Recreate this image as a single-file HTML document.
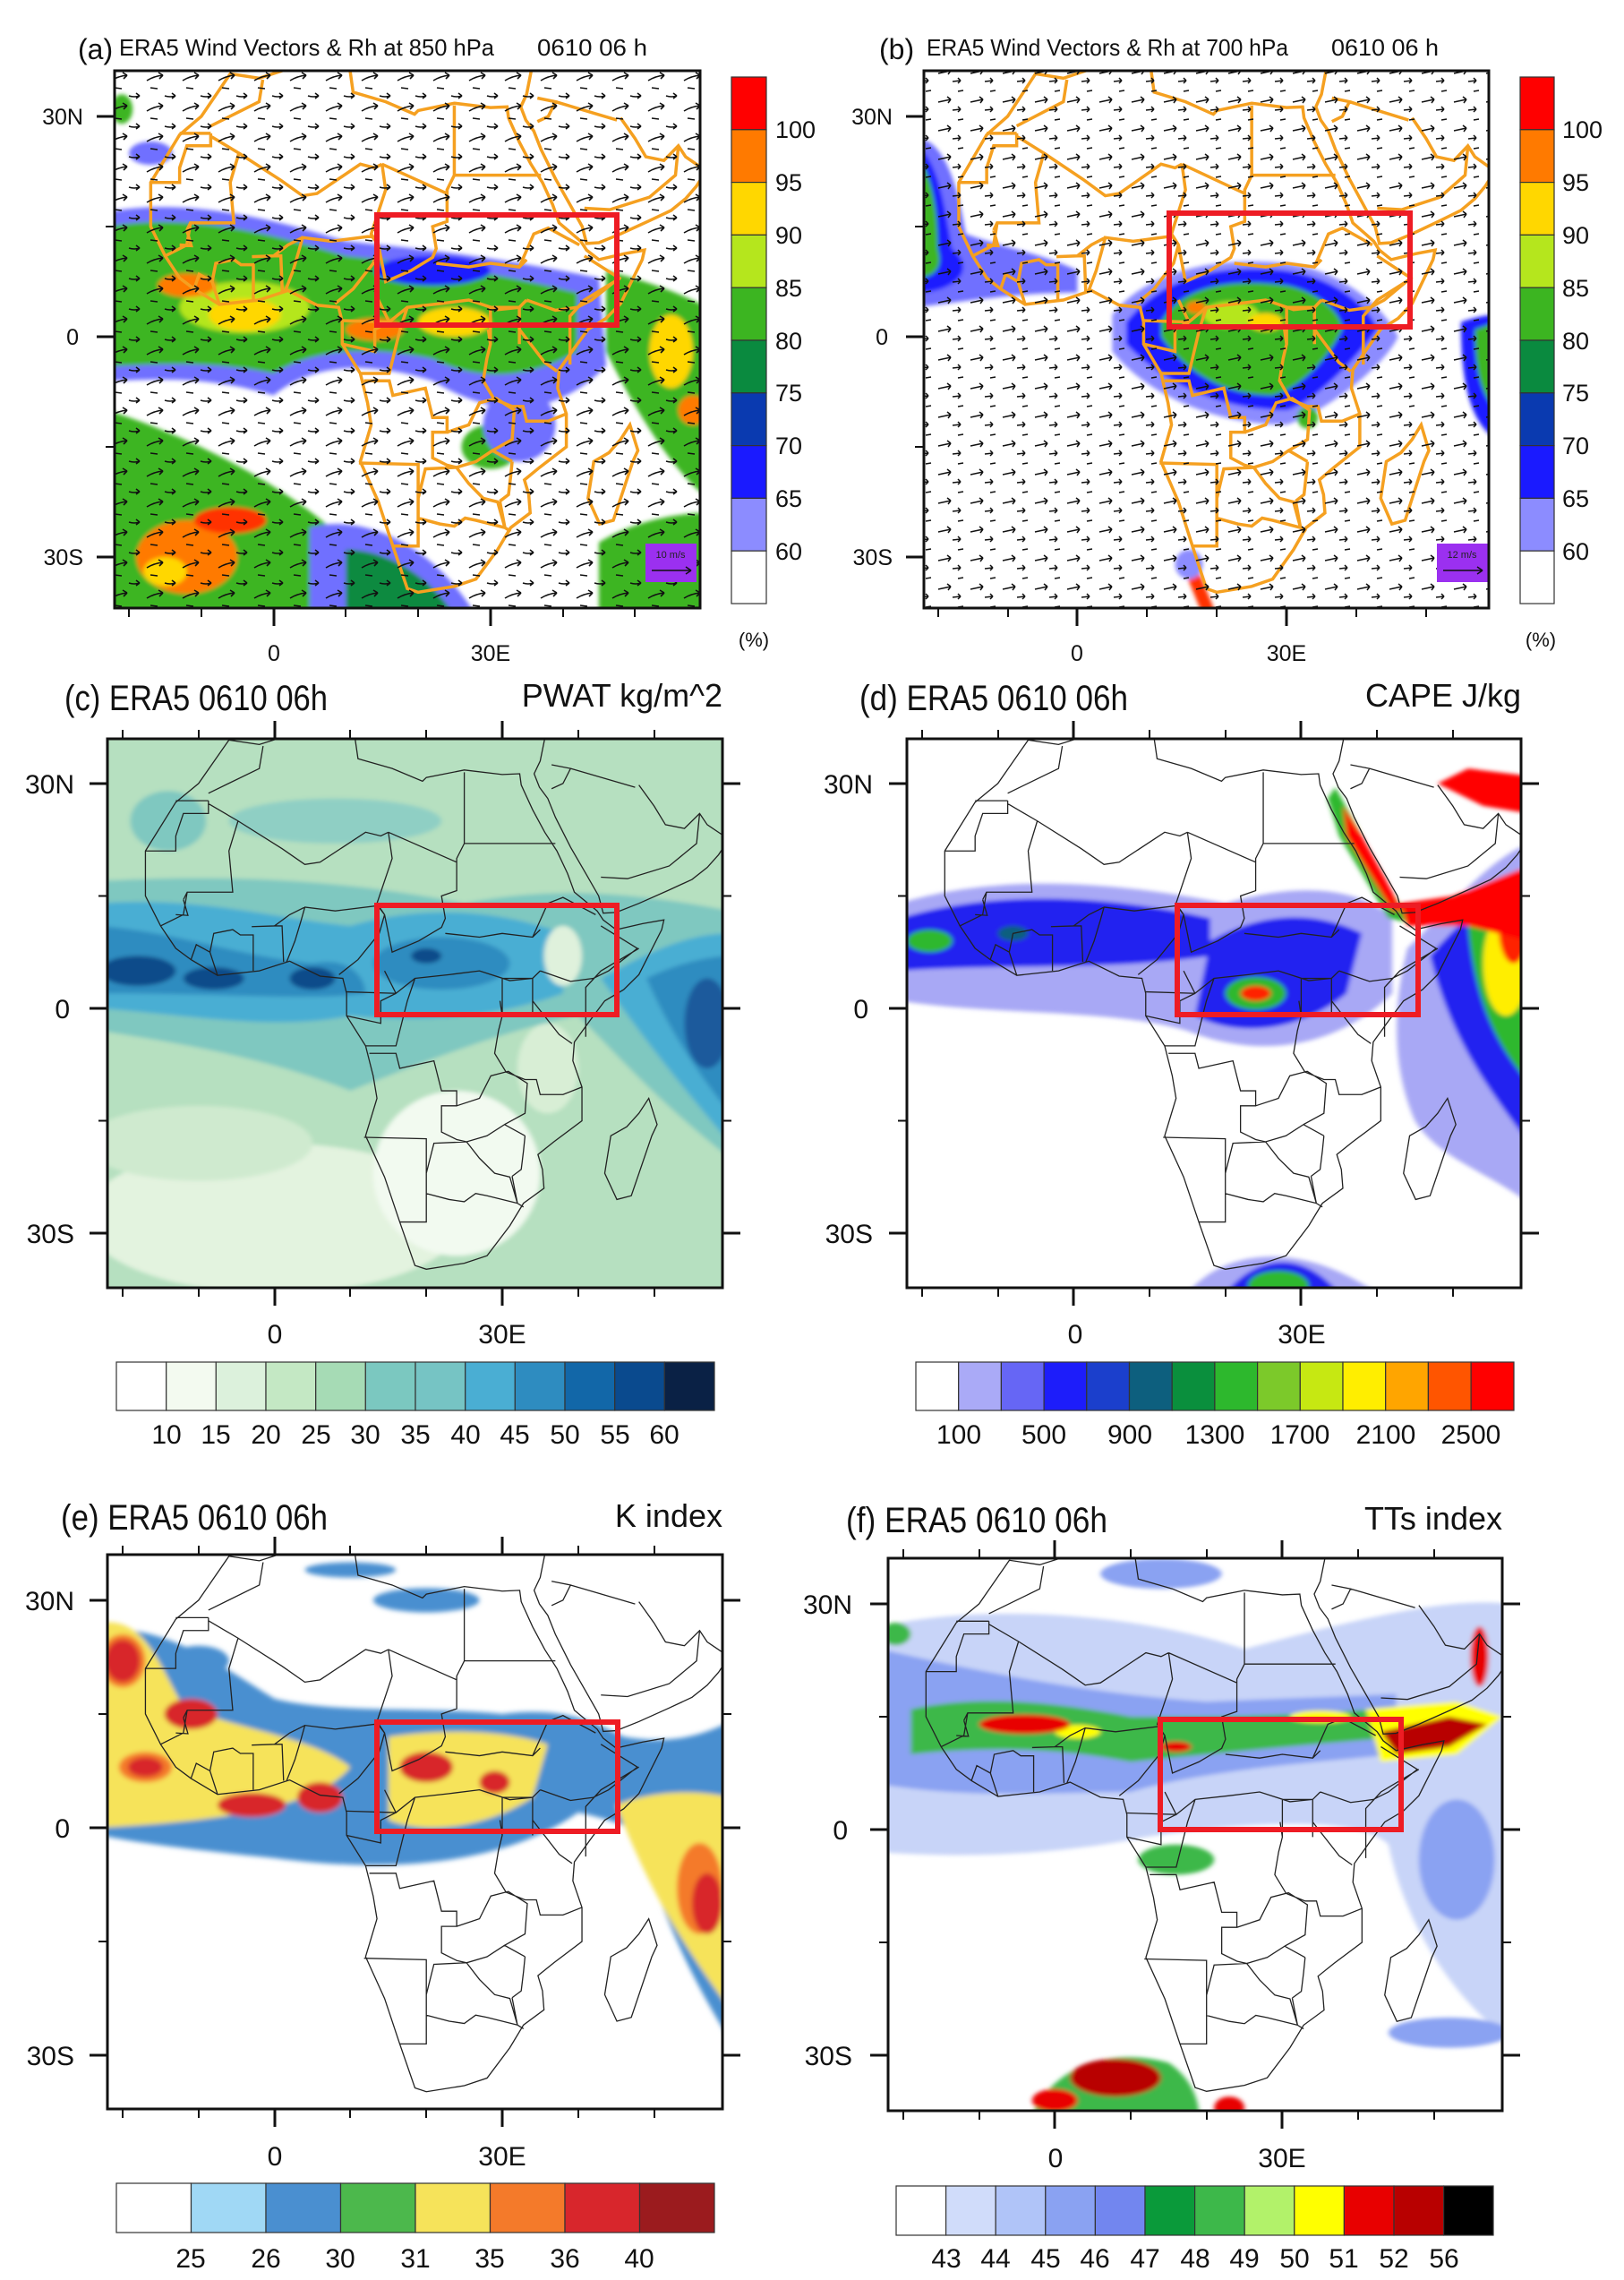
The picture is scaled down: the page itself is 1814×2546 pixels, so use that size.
<!DOCTYPE html>
<html><head><meta charset="utf-8"><style>html,body{margin:0;padding:0;background:#fff}svg{display:block}text{font-family:"Liberation Sans",sans-serif;fill:#111}</style></head><body>
<svg width="1814" height="2546" viewBox="0 0 1814 2546" xmlns="http://www.w3.org/2000/svg">
<defs>
<filter id="bl" x="-0.1" y="-0.1" width="1.2" height="1.2"><feGaussianBlur stdDeviation="0.3"/></filter>
<g id="coast" fill="none">
<path vector-effect="non-scaling-stroke" d="M-6,-35.8 L-10,-30 L-13,-27.5 L-17,-21 L-17,-15 L-15,-11 L-13,-8 L-11,-6.5 L-7.5,-4.4 L-2,-5 L2,-6.3 L6,-4.3 L9,-4 L9.5,-2 L9.5,1 L12,5 L13,9 L13.5,12 L12,17 L14.5,22.5 L16.5,28.5 L18.5,34.3 L20,34.8 L25,34 L28,33 L31,29 L32.8,26 L35.5,24 L35.3,21.5 L34.7,19.5 L36.8,17.8 L40.5,15 L40.5,10.5 L39.3,7 L39.5,4.5 L41.5,1.7 L43.5,-1 L46,-2.5 L48,-4.5 L51,-10.5 L51.3,-11.8 L48.5,-11.3 L45,-10.5 L43.3,-11.8 L42.5,-13 L39.5,-15.5 L38.6,-18 L37.2,-21 L35.6,-23.5 L34,-26.5 L32.5,-29.8 L32.3,-31.3 L30,-31.2 L25,-31.8 L20,-30.8 L19.5,-30.3 L15.5,-32 L11,-33.3 L10.5,-36.8 L9.5,-37.2 L3,-36.8 L-2,-35.2 Z"/>
<path vector-effect="non-scaling-stroke" d="M36,-38 L35,-33 L34.2,-31.3 L34.9,-29.5 L36,-28 L37,-25.5 L39,-21.5 L41,-18 L42.7,-15 L43.3,-12.7 L45,-12.8 L48,-14 L52,-15.8 L55,-17.2 L57,-18.8 L58.5,-20.5 L59.8,-22.5 M48,-29.8 L50,-27 L51.5,-24.5 L54,-24 L56,-26 L57,-24.5 L59.5,-22.8"/>
<path vector-effect="non-scaling-stroke" d="M49.3,12 L50.4,15.5 L49.7,17 L47,25 L45.1,25.5 L43.5,22 L44.3,17 L46.4,15.8 L48,14 Z M-10,-38 L-9,-37 L-6,-36.5 L-2,-36.7 L0,-38.5"/>
<path vector-effect="non-scaling-stroke" d="M-1.5,-35 L-2,-32 L-8.7,-28.7 M-8.7,-27.7 L-13,-27.7 M-17,-21 L-13,-21 L-13,-23 L-12,-26 L-8.7,-26 L-8.7,-27.7 M-12,-14.5 L-11.5,-15.5 L-5.5,-15.5 L-6,-21 L-4.8,-25 L-8.7,-27.3 M-4.8,-25 L1,-21.3 L4,-19.2 L6,-19.5 L12,-23.5 L14,-23 L15,-23.5 M25,-31.5 L25,-22 L24,-20 L24,-19.5 M25,-22 L37,-22 M15,-23.5 L24,-19.5 L24,-15.7 L22,-15 L22.5,-12 L22,-10.8 L19,-9 L15.5,-7.5 L14.5,-12.5 L13.5,-14 L15.5,-20 L15,-23.5 M3.5,-11.7 L4,-13.5 L8,-13 L13.6,-13.7 L14.5,-12.5 M22.5,-10 L27,-9.5 L30,-10 L34,-9.5 L35,-10.5 M14.5,-5 L16,-2 L18.5,-4 L23,-4.5 L27,-5 L31,-3.7 L34,-4 M34,-9.5 L36,-14 L38,-14.8 L42.3,-12.5 M35,-5 L39,-3.6 L42,-4 L44,-5 L47.8,-8 L43,-11 M34,-1 L37.5,3.5 L39.2,4.7 M40.5,10.5 L38,11.5 L35,11.5 L34.5,9.5 L33,9.5 L30.5,8.5 L29,6 L29.5,3 L30,1 L29.7,-1 M12.5,6 L16,6 L16.5,8 L21,7 L22,11 L24,11 L24,13 L22,13 L22,16.5 L24,17.5 L25.3,17.8 L28,17 L30.3,15.5 L33,17 M11.8,17.2 L20,17.4 L20,22 L20,24.7 L20,28.5 L16.5,28.5 M20,22 L21,18 L25.3,17.8 L27,20 L29,22 L31,22.5 L32,26 L28,25 L26.5,24.7 L25,25.8 L23,25.5 L20,24.7 M31.3,22.4 L32,26 L32.8,26.5 M24,13 L27,12 L28.5,9 L30.8,8.4 L33.3,10 L33,14 L30.3,15.5 M33,17 L32.8,19 L32.5,21.5 L31.3,22.4 M-15,-11 L-12,-12.5 L-11.5,-15.5 M-8.5,-7.5 L-8,-10 L-5.5,-10.5 L-4.5,-9.8 L-2.8,-9.8 L-2.8,-5 M-0.1,-11 L1,-11 L1.2,-6.2 M1.6,-6.2 L2.7,-9 L3.5,-11.7 M-3,-10.9 L0,-11 L2,-12.5 L4,-13.5 M-8.5,-7.5 L-7.5,-4.4 M-11,-6.5 L-10.3,-8.5 L-8.5,-7.5 M-13,-12.5 L-11.4,-12.4 L-12,-14.5 M8.5,-4.5 L11,-6.5 L13.8,-10 L14.5,-12.5 M9.5,-2.2 L16,-2 M9.5,1 L14,2 L14,-1 L16,-2 M12,5 L16,5 L17.5,-1 L18.5,-4 M30,1 L30,-4 L34,-4 L35,-5 M34,-4 L34,1 M41,3.8 L41,-2.8 L43,-5 L48,-8 M36.5,-29.3 L38,-30 L39,-32 L36.5,-32.5 M43,-17.5 L46.5,-17.3 L52,-19 L55.6,-22 L56,-26 M39,-32 L47.5,-29.5"/>
</g>
<pattern id="arr" width="40" height="34" patternUnits="userSpaceOnUse">
<path d="M4,22 Q12,17 22,16 M22,16 l-5,-3 M22,16 l-4,4 M24,5 Q30,7 36,5 M36,5 l-4,-3 M36,5 l-4,3 M8,30 l8,1" stroke="#111" stroke-width="1.6" fill="none"/>
</pattern>
<pattern id="arr2" width="36" height="32" patternUnits="userSpaceOnUse">
<path d="M4,18 L18,15 M18,15 l-4,-3 M18,15 l-3,4 M20,27 L29,26 M29,26 l-3,-3 M29,26 l-3,3 M26,6 l6,-1" stroke="#111" stroke-width="1.5" fill="none"/>
</pattern>
<clipPath id="cA"><rect x="128" y="79" width="654" height="600"/></clipPath>
<clipPath id="cB"><rect x="1032" y="79" width="631" height="600"/></clipPath>
<clipPath id="cC"><rect x="120" y="825" width="687" height="613"/></clipPath>
<clipPath id="cD"><rect x="1013" y="825" width="686" height="613"/></clipPath>
<clipPath id="cE"><rect x="120" y="1736" width="687" height="619"/></clipPath>
<clipPath id="cF"><rect x="992" y="1740" width="686" height="617"/></clipPath>
</defs>
<rect width="1814" height="2546" fill="#fff"/>

<!-- ============ (a) ============ -->
<g clip-path="url(#cA)">
<rect x="128" y="79" width="654" height="600" fill="#fff"/>
<g transform="translate(305.6,376) scale(8.074,8.2)">
<g filter="url(#bl)">
<path fill="#7070ff" d="M-23,-17 C-12,-19 0,-16 10,-13 C20,-12 30,-11 45,-8 L46,4 C40,10 32,12 22,6 C12,3 5,4 0,8 C-10,5 -18,6 -23,6 Z"/>
<path fill="#3cb521" d="M-23,-15 C-12,-17 0,-14 10,-11 C20,-10 30,-9 42,-6 L42,2 C35,6 28,6 22,3 C12,1 5,2 0,5 C-10,3 -18,4 -23,4 Z"/>
<ellipse cx="-4" cy="-4" rx="9" ry="3.5" fill="#b5e61d"/>
<ellipse cx="-4" cy="-3" rx="5" ry="2.2" fill="#ffd700"/>
<ellipse cx="-12" cy="-7" rx="4" ry="1.6" fill="#ff7a00"/>
<ellipse cx="14" cy="-1" rx="4" ry="1.5" fill="#ff7a00"/>
<ellipse cx="25" cy="-2" rx="5" ry="2" fill="#ffd700"/>
<ellipse cx="22" cy="-9" rx="8" ry="2" fill="#1a1aff"/>
<ellipse cx="30" cy="-6" rx="4" ry="2" fill="#3cb521"/>
<path fill="#3cb521" d="M-23,10 C-10,14 5,22 12,30 L14,38 L-23,38 Z"/>
<path fill="#7070ff" d="M5,26 C12,24 22,28 28,38 L5,38 Z"/>
<path fill="#0a8a3f" d="M10,29 C16,29 22,33 25,38 L10,38 Z"/>
<ellipse cx="-12" cy="30" rx="7" ry="5" fill="#ff7a00"/>
<ellipse cx="-6" cy="25" rx="5" ry="1.8" fill="#ff3000"/>
<ellipse cx="-15" cy="32" rx="3" ry="2" fill="#ffd700"/>
<path fill="#3cb521" d="M46,-9 C54,-7 58,-5 60,-4 L60,22 C55,18 50,10 46,2 Z"/>
<ellipse cx="55" cy="2" rx="3" ry="5" fill="#ffd700"/>
<ellipse cx="58" cy="10" rx="2" ry="2" fill="#ff7a00"/>
<path fill="#3cb521" d="M45,28 C50,25 56,24 60,24 L60,38 L45,38 Z"/>
<ellipse cx="30" cy="15" rx="4" ry="3" fill="#3cb521"/>
<ellipse cx="34" cy="12" rx="5" ry="5" fill="#7070ff"/>
<ellipse cx="-17" cy="-25" rx="3" ry="1.6" fill="#7070ff"/>
<ellipse cx="-21" cy="-31" rx="1.5" ry="2" fill="#3cb521"/>
</g>
<use href="#coast" stroke="#f5a020" stroke-width="3.5"/>
</g>
<rect x="128" y="79" width="654" height="600" fill="url(#arr)"/>
<rect x="721" y="607" width="57" height="43" fill="#9b30f0"/>
<text x="749" y="623" font-size="11" text-anchor="middle" style="fill:#222">10 m/s</text>
<path d="M728,637 H772 M772,637 l-6,-4 M772,637 l-6,4" stroke="#111" stroke-width="1.5" fill="none"/>
</g>
<rect x="128" y="79" width="654" height="600" fill="none" stroke="#111" stroke-width="3"/>
<path d="M128,130h-20M128,376h-20M128,622h-20M306,679v20M548,679v20" stroke="#111" stroke-width="3"/>
<path d="M128,253h-10M128,499h-10M144,679v10M225,679v10M386,679v10M467,679v10M629,679v10M709,679v10" stroke="#111" stroke-width="2"/>
<text x="87" y="66" font-size="32">(a)</text>
<text x="133" y="62" font-size="26" textLength="419" lengthAdjust="spacingAndGlyphs">ERA5  Wind Vectors &amp;  Rh at 850 hPa</text>
<text x="600" y="62" font-size="26" textLength="123" lengthAdjust="spacingAndGlyphs">0610   06 h</text>
<g font-size="25" text-anchor="end"><text x="93" y="139">30N</text><text x="88" y="385">0</text><text x="93" y="631">30S</text></g>
<g font-size="25" text-anchor="middle"><text x="306" y="738">0</text><text x="548" y="738">30E</text></g>
<g stroke="#333" stroke-width="1.2">
<rect x="817" y="86" width="39" height="58.8" fill="#ff0000"/><rect x="817" y="144.8" width="39" height="58.8" fill="#ff7a00"/><rect x="817" y="203.6" width="39" height="58.8" fill="#ffd700"/><rect x="817" y="262.4" width="39" height="58.8" fill="#b5e61d"/><rect x="817" y="321.2" width="39" height="58.8" fill="#3cb521"/><rect x="817" y="380" width="39" height="58.8" fill="#0a8a3f"/><rect x="817" y="438.8" width="39" height="58.8" fill="#0a3ab0"/><rect x="817" y="497.6" width="39" height="58.8" fill="#1a1aff"/><rect x="817" y="556.4" width="39" height="58.8" fill="#8c8cff"/><rect x="817" y="615.2" width="39" height="58.8" fill="#fff"/></g>
<g font-size="27"><text x="866" y="154">100</text><text x="866" y="213">95</text><text x="866" y="272">90</text><text x="866" y="331">85</text><text x="866" y="390">80</text><text x="866" y="448">75</text><text x="866" y="507">70</text><text x="866" y="566">65</text><text x="866" y="625">60</text></g>
<text x="842" y="722" font-size="22" text-anchor="middle">(%)</text>
<rect x="421" y="240" width="268" height="123" fill="none" stroke="#ee1c24" stroke-width="6"/>

<!-- ============ (b) ============ -->
<g clip-path="url(#cB)">
<rect x="1032" y="79" width="631" height="600" fill="#fff"/>
<g transform="translate(1203.4,376) scale(7.79,8.2)">
<g filter="url(#bl)">
<path fill="#7070ff" d="M-23,-27 C-19,-27 -17,-20 -16,-14 C-10,-12 -4,-11 0,-9 L0,-6 C-8,-6 -15,-5 -23,-4 Z"/>
<path fill="#1a1aff" d="M-23,-26 C-20,-24 -19,-18 -18,-12 C-14,-9 -18,-6 -23,-6 Z"/>
<path fill="#3cb521" d="M-23,-25 C-21,-22 -20,-18 -20,-12 C-19,-9 -21,-8 -23,-8 Z"/>
<path fill="#8c8cff" d="M5,-3 C10,-9 20,-11 30,-10 C38,-9 44,-4 46,0 C44,4 36,10 30,12 C20,12 10,8 5,2 Z"/>
<path fill="#1a1aff" d="M7,-2 C12,-8 20,-10 30,-9 C37,-8 42,-4 43,-1 C40,3 34,9 30,10 C20,10 12,6 7,1 Z"/>
<path fill="#3cb521" d="M12,-2 C15,-7 22,-8 30,-7 C35,-6 38,-3 38,-1 C36,3 32,7 28,8 C20,8 15,4 12,0 Z"/>
<ellipse cx="22" cy="-3" rx="4" ry="1.8" fill="#b5e61d"/>
<ellipse cx="27" cy="-2" rx="2.5" ry="1.2" fill="#ffd700"/>
<ellipse cx="17" cy="-4" rx="1.4" ry="0.8" fill="#ff7a00"/>
<path fill="#1a1aff" d="M55,-2 C58,-3 60,-3 60,-3 L60,14 C57,12 55,8 55,-2 Z"/>
<path fill="#3cb521" d="M57,-1 L60,-2 L60,10 C58,8 57,5 57,-1 Z"/>
<path fill="#ff3000" d="M15,31 L17,31 L20,38 L18,38 Z"/>
<ellipse cx="16" cy="31" rx="2" ry="2" fill="#8c8cff"/>
<ellipse cx="33" cy="11" rx="1.5" ry="1.5" fill="#3cb521"/>
</g>
<use href="#coast" stroke="#f5a020" stroke-width="3.5"/>
</g>
<rect x="1032" y="79" width="631" height="600" fill="url(#arr2)"/>
<rect x="1605" y="607" width="57" height="43" fill="#9b30f0"/>
<text x="1633" y="623" font-size="11" text-anchor="middle" style="fill:#222">12 m/s</text>
<path d="M1612,637 H1656 M1656,637 l-6,-4 M1656,637 l-6,4" stroke="#111" stroke-width="1.5" fill="none"/>
</g>
<rect x="1032" y="79" width="631" height="600" fill="none" stroke="#111" stroke-width="3"/>
<path d="M1032,130h-20M1032,376h-20M1032,622h-20M1203,679v20M1437,679v20" stroke="#111" stroke-width="3"/>
<path d="M1032,253h-10M1032,499h-10M1048,679v10M1126,679v10M1281,679v10M1359,679v10M1515,679v10M1593,679v10" stroke="#111" stroke-width="2"/>
<text x="982" y="66" font-size="32">(b)</text>
<text x="1035" y="62" font-size="26" textLength="404" lengthAdjust="spacingAndGlyphs">ERA5  Wind Vectors &amp;  Rh at 700 hPa</text>
<text x="1487" y="62" font-size="26" textLength="120" lengthAdjust="spacingAndGlyphs">0610   06 h</text>
<g font-size="25" text-anchor="end"><text x="997" y="139">30N</text><text x="992" y="385">0</text><text x="997" y="631">30S</text></g>
<g font-size="25" text-anchor="middle"><text x="1203" y="738">0</text><text x="1437" y="738">30E</text></g>
<g stroke="#333" stroke-width="1.2">
<rect x="1698" y="86" width="38" height="58.8" fill="#ff0000"/><rect x="1698" y="144.8" width="38" height="58.8" fill="#ff7a00"/><rect x="1698" y="203.6" width="38" height="58.8" fill="#ffd700"/><rect x="1698" y="262.4" width="38" height="58.8" fill="#b5e61d"/><rect x="1698" y="321.2" width="38" height="58.8" fill="#3cb521"/><rect x="1698" y="380" width="38" height="58.8" fill="#0a8a3f"/><rect x="1698" y="438.8" width="38" height="58.8" fill="#0a3ab0"/><rect x="1698" y="497.6" width="38" height="58.8" fill="#1a1aff"/><rect x="1698" y="556.4" width="38" height="58.8" fill="#8c8cff"/><rect x="1698" y="615.2" width="38" height="58.8" fill="#fff"/></g>
<g font-size="27"><text x="1745" y="154">100</text><text x="1745" y="213">95</text><text x="1745" y="272">90</text><text x="1745" y="331">85</text><text x="1745" y="390">80</text><text x="1745" y="448">75</text><text x="1745" y="507">70</text><text x="1745" y="566">65</text><text x="1745" y="625">60</text></g>
<text x="1721" y="722" font-size="22" text-anchor="middle">(%)</text>
<rect x="1306" y="238" width="269" height="127" fill="none" stroke="#ee1c24" stroke-width="6"/>

<!-- ============ (c) PWAT ============ -->
<g clip-path="url(#cC)">
<g transform="translate(306.6,1126) scale(8.48,8.37)">
<g filter="url(#bl)">
<rect x="-23" y="-38" width="84" height="77" fill="#b6e0c0"/>
<ellipse cx="0" cy="28" rx="25" ry="10" fill="#e3f3df"/>
<ellipse cx="-10" cy="18" rx="15" ry="5" fill="#cfeacf"/>
<ellipse cx="8" cy="-25" rx="14" ry="3" fill="#8fcfc4"/>
<ellipse cx="-14" cy="-25" rx="5" ry="4" fill="#7fc8c0"/>
<path fill="#7fc8c0" d="M-23,-17 C-5,-18 10,-17 25,-14 C35,-16 45,-16 60,-13 L60,20 C50,12 45,6 40,1 C30,3 20,7 10,11 C0,7 -10,5 -23,3 Z"/>
<path fill="#4aaed3" d="M-23,-14 C-10,-15 0,-12 10,-11 C20,-14 30,-13 38,-10 L38,-2 C30,1 20,2 10,1 C0,3 -10,1 -23,0 Z"/>
<path fill="#4aaed3" d="M43,-4 C50,-8 55,-10 60,-10 L60,18 C55,12 50,6 43,-4 Z"/>
<path fill="#2e8cc0" d="M-23,-11 C-12,-10 -5,-7 5,-6 C10,-7 12,-4 12,-2 C5,-1 -5,-2 -23,-2 Z"/>
<ellipse cx="22" cy="-6" rx="9" ry="3.5" fill="#2e8cc0"/>
<path fill="#2e8cc0" d="M49,-4 C55,-7 60,-7 60,-7 L60,14 C56,9 52,3 49,-4 Z"/>
<ellipse cx="-18" cy="-5" rx="5" ry="2" fill="#0f4c8a"/>
<ellipse cx="-8" cy="-4" rx="4" ry="1.5" fill="#0f4c8a"/>
<ellipse cx="5" cy="-4" rx="3" ry="1.5" fill="#0f4c8a"/>
<ellipse cx="20" cy="-7" rx="2" ry="1" fill="#0f4c8a"/>
<ellipse cx="57" cy="2" rx="3" ry="6" fill="#1a5a9c"/>
<ellipse cx="24" cy="22" rx="11" ry="11" fill="#f2faf0"/>
<ellipse cx="38" cy="-7" rx="2.5" ry="4" fill="#dff1dc"/>
<ellipse cx="36" cy="8" rx="4" ry="6" fill="#d8eed5"/>
</g>
<use href="#coast" stroke="#222" stroke-width="1.3"/>
</g>
</g>
<rect x="120" y="825" width="687" height="613" fill="none" stroke="#111" stroke-width="3"/>
<path d="M120,875h-20M120,1126h-20M120,1377h-20M807,875h20M807,1126h20M807,1377h20M307,825v-20M561,825v-20M307,1438v20M561,1438v20" stroke="#111" stroke-width="3"/>
<path d="M120,1000.5h-10M120,1251.5h-10M807,1000.5h10M807,1251.5h10M137,825v-10M222,825v-10M391,825v-10M476,825v-10M646,825v-10M731,825v-10M137,1438v10M222,1438v10M391,1438v10M476,1438v10M646,1438v10M731,1438v10" stroke="#111" stroke-width="2"/>
<text x="72" y="793" font-size="40" textLength="294" lengthAdjust="spacingAndGlyphs">(c) ERA5 0610 06h</text>
<text x="807" y="789" font-size="36" text-anchor="end">PWAT kg/m^2</text>
<g font-size="30" text-anchor="end"><text x="83" y="886">30N</text><text x="78" y="1137">0</text><text x="83" y="1388">30S</text></g>
<g font-size="30" text-anchor="middle"><text x="307" y="1500">0</text><text x="561" y="1500">30E</text></g>
<rect x="421" y="1011" width="268" height="122" fill="none" stroke="#ee1c24" stroke-width="6"/>
<g stroke="#333" stroke-width="1.2">
<rect x="130" y="1521" width="55.7" height="54" fill="#fff"/><rect x="185.7" y="1521" width="55.7" height="54" fill="#f3faf0"/><rect x="241.3" y="1521" width="55.7" height="54" fill="#dcf1dc"/><rect x="297" y="1521" width="55.7" height="54" fill="#c4e8c4"/><rect x="352.7" y="1521" width="55.7" height="54" fill="#a6dbb5"/><rect x="408.3" y="1521" width="55.7" height="54" fill="#7bc8c0"/><rect x="464" y="1521" width="55.7" height="54" fill="#76c4c4"/><rect x="519.7" y="1521" width="55.7" height="54" fill="#4aaed3"/><rect x="575.3" y="1521" width="55.7" height="54" fill="#2e8cc0"/><rect x="631" y="1521" width="55.7" height="54" fill="#1267a8"/><rect x="686.7" y="1521" width="55.7" height="54" fill="#0a4a8e"/><rect x="742.3" y="1521" width="55.7" height="54" fill="#0a2145"/></g>
<g font-size="30" text-anchor="middle"><text x="186" y="1612">10</text><text x="241" y="1612">15</text><text x="297" y="1612">20</text><text x="353" y="1612">25</text><text x="408" y="1612">30</text><text x="464" y="1612">35</text><text x="520" y="1612">40</text><text x="575" y="1612">45</text><text x="631" y="1612">50</text><text x="687" y="1612">55</text><text x="742" y="1612">60</text></g>

<!-- ============ (d) CAPE ============ -->
<g clip-path="url(#cD)">
<rect x="1013" y="825" width="686" height="613" fill="#fff"/>
<g transform="translate(1199.3,1126) scale(8.47,8.37)">
<g filter="url(#bl)">
<path fill="#a8a8f5" d="M-23,-14 C-10,-18 5,-17 20,-14 C30,-17 38,-16 42,-12 L42,-2 C35,5 25,7 15,3 C5,0 -10,1 -23,-1 Z"/>
<path fill="#a8a8f5" d="M44,-8 C50,-14 55,-20 60,-22 L60,26 C55,22 48,20 45,15 C42,8 42,0 44,-8 Z"/>
<path fill="#a8a8f5" d="M15,38 C20,32 30,31 40,38 Z"/>
<path fill="#2424f0" d="M-23,-12 C-10,-16 5,-15 18,-12 L18,-7 C5,-5 -10,-6 -23,-5 Z"/>
<path fill="#2424f0" d="M18,-9 C25,-13 32,-13 38,-10 L36,-2 C30,3 22,4 16,1 Z"/>
<path fill="#2424f0" d="M47,-7 C52,-13 57,-16 60,-17 L60,18 C55,11 50,5 47,-7 Z"/>
<ellipse cx="-19" cy="-9" rx="3" ry="1.5" fill="#2db82d"/>
<ellipse cx="-8" cy="-10" rx="2" ry="1" fill="#0d5f7e"/>
<ellipse cx="24" cy="-2" rx="4" ry="2.2" fill="#2db82d"/>
<ellipse cx="24" cy="-2" rx="2" ry="1" fill="#ff2000"/>
<path fill="#2db82d" d="M52,-11 C56,-15 60,-16 60,-16 L60,10 C56,5 53,0 52,-11 Z"/>
<ellipse cx="57" cy="-6" rx="3" ry="7" fill="#ffee00"/>
<ellipse cx="58" cy="-11" rx="2" ry="5" fill="#ff2000"/>
<path fill="#2db82d" d="M34.5,-29.5 L37.5,-24 L40.5,-18 L43.5,-13 L44,-11.5 L41.5,-12 L38,-18 L35,-23 L33.5,-28 Z"/>
<path fill="#ff0000" d="M35.5,-27 L38,-23 L41,-17.5 L43.3,-13 L42,-13 L39,-18 L36,-23 Z"/>
<path fill="#ff0000" d="M43,-14 L50,-15 L60,-19 L60,-9 L52,-11 L44,-11 Z"/>
<path fill="#ff0000" d="M48,-30 L54,-27 L60,-26 L60,-31 L52,-32 Z"/>
<path fill="#2424f0" d="M20,38 C24,33 30,32 35,38 Z"/>
<ellipse cx="27" cy="37" rx="4" ry="2" fill="#2db82d"/>
</g>
<use href="#coast" stroke="#222" stroke-width="1.3"/>
</g>
</g>
<rect x="1013" y="825" width="686" height="613" fill="none" stroke="#111" stroke-width="3"/>
<path d="M1013,875h-20M1013,1126h-20M1013,1377h-20M1699,875h20M1699,1126h20M1699,1377h20M1199,825v-20M1453,825v-20M1199,1438v20M1453,1438v20" stroke="#111" stroke-width="3"/>
<path d="M1013,1000.5h-10M1013,1251.5h-10M1699,1000.5h10M1699,1251.5h10M1030,825v-10M1115,825v-10M1284,825v-10M1369,825v-10M1538,825v-10M1623,825v-10M1030,1438v10M1115,1438v10M1284,1438v10M1369,1438v10M1538,1438v10M1623,1438v10" stroke="#111" stroke-width="2"/>
<text x="960" y="793" font-size="40" textLength="300" lengthAdjust="spacingAndGlyphs">(d) ERA5 0610 06h</text>
<text x="1699" y="789" font-size="36" text-anchor="end">CAPE J/kg</text>
<g font-size="30" text-anchor="end"><text x="975" y="886">30N</text><text x="970" y="1137">0</text><text x="975" y="1388">30S</text></g>
<g font-size="30" text-anchor="middle"><text x="1201" y="1500">0</text><text x="1454" y="1500">30E</text></g>
<rect x="1315" y="1011" width="269" height="122" fill="none" stroke="#ee1c24" stroke-width="6"/>
<g stroke="#333" stroke-width="1.2">
<rect x="1023" y="1521" width="47.7" height="54" fill="#fff"/><rect x="1070.7" y="1521" width="47.7" height="54" fill="#aaaaf7"/><rect x="1118.4" y="1521" width="47.7" height="54" fill="#6666f5"/><rect x="1166.1" y="1521" width="47.7" height="54" fill="#1d1dfa"/><rect x="1213.8" y="1521" width="47.7" height="54" fill="#1b3fcc"/><rect x="1261.5" y="1521" width="47.7" height="54" fill="#0d5f7e"/><rect x="1309.2" y="1521" width="47.7" height="54" fill="#0a8f3d"/><rect x="1356.9" y="1521" width="47.7" height="54" fill="#2db82d"/><rect x="1404.6" y="1521" width="47.7" height="54" fill="#7cc92a"/><rect x="1452.3" y="1521" width="47.7" height="54" fill="#c6e812"/><rect x="1500" y="1521" width="47.7" height="54" fill="#ffee00"/><rect x="1547.7" y="1521" width="47.7" height="54" fill="#ffa500"/><rect x="1595.4" y="1521" width="47.7" height="54" fill="#ff5500"/><rect x="1643.1" y="1521" width="47.9" height="54" fill="#ff0000"/></g>
<g font-size="30" text-anchor="middle"><text x="1071" y="1612">100</text><text x="1166" y="1612">500</text><text x="1262" y="1612">900</text><text x="1357" y="1612">1300</text><text x="1452" y="1612">1700</text><text x="1548" y="1612">2100</text><text x="1643" y="1612">2500</text></g>

<!-- ============ (e) K index ============ -->
<g clip-path="url(#cE)">
<rect x="120" y="1736" width="687" height="619" fill="#fff"/>
<g transform="translate(306.6,2041) scale(8.48,8.47)">
<g filter="url(#bl)">
<path fill="#4a8fd0" d="M-23,-26 C-15,-27 -8,-22 0,-17 C8,-15 20,-16 30,-15 C38,-16 42,-14 46,-12 C52,-11 56,-12 60,-14 L60,6 C50,1 45,-1 40,-2 C30,5 15,6 0,4 C-10,3 -18,2 -23,1 Z"/>
<ellipse cx="20" cy="-30" rx="7" ry="1.6" fill="#4a8fd0"/>
<ellipse cx="10" cy="-34" rx="6" ry="1" fill="#4a8fd0"/>
<ellipse cx="-10" cy="-22" rx="4" ry="2" fill="#4a8fd0"/>
<path fill="#4a8fd0" d="M47,-3 L60,-5 L60,28 C55,20 50,10 47,-3 Z"/>
<path fill="#f6e35a" d="M-23,-27 C-17,-28 -15,-21 -12,-16 C-5,-13 5,-12 10,-8 C6,-3 -5,-1 -23,0 Z"/>
<path fill="#f6e35a" d="M15,-12 C22,-13 30,-13 36,-11 L34,-4 C28,0 20,1 15,-1 Z"/>
<path fill="#f6e35a" d="M45,-3 C50,-5 56,-5 60,-4 L60,24 C55,17 50,10 45,-3 Z"/>
<ellipse cx="-20" cy="-22" rx="3" ry="3.5" fill="#f47a2a"/>
<ellipse cx="-20" cy="-22" rx="2.3" ry="2.8" fill="#d8262c"/>
<ellipse cx="-11" cy="-15" rx="3.5" ry="2" fill="#d8262c"/>
<ellipse cx="-17" cy="-8" rx="3.5" ry="2" fill="#f47a2a"/>
<ellipse cx="-17" cy="-8" rx="2.3" ry="1.3" fill="#d8262c"/>
<ellipse cx="-3" cy="-3" rx="4.5" ry="1.6" fill="#d8262c"/>
<ellipse cx="6" cy="-4" rx="3" ry="2" fill="#d8262c"/>
<ellipse cx="20" cy="-8" rx="3.5" ry="2" fill="#d8262c"/>
<ellipse cx="29" cy="-6" rx="2" ry="1.5" fill="#d8262c"/>
<ellipse cx="56" cy="8" rx="3" ry="6" fill="#f47a2a"/>
<ellipse cx="57" cy="10" rx="2" ry="4" fill="#d8262c"/>
</g>
<use href="#coast" stroke="#222" stroke-width="1.3"/>
</g>
</g>
<rect x="120" y="1736" width="687" height="619" fill="none" stroke="#111" stroke-width="3"/>
<path d="M120,1787h-20M120,2041h-20M120,2295h-20M807,1787h20M807,2041h20M807,2295h20M307,1736v-20M561,1736v-20M307,2355v20M561,2355v20" stroke="#111" stroke-width="3"/>
<path d="M120,1914h-10M120,2168h-10M807,1914h10M807,2168h10M137,1736v-10M222,1736v-10M391,1736v-10M476,1736v-10M646,1736v-10M731,1736v-10M137,2355v10M222,2355v10M391,2355v10M476,2355v10M646,2355v10M731,2355v10" stroke="#111" stroke-width="2"/>
<text x="68" y="1708" font-size="40" textLength="298" lengthAdjust="spacingAndGlyphs">(e) ERA5 0610 06h</text>
<text x="807" y="1705" font-size="36" text-anchor="end">K index</text>
<g font-size="30" text-anchor="end"><text x="83" y="1798">30N</text><text x="78" y="2052">0</text><text x="83" y="2306">30S</text></g>
<g font-size="30" text-anchor="middle"><text x="307" y="2418">0</text><text x="561" y="2418">30E</text></g>
<rect x="421" y="1923" width="269" height="122" fill="none" stroke="#ee1c24" stroke-width="6"/>
<g stroke="#333" stroke-width="1.2">
<rect x="130" y="2438" width="83.5" height="55" fill="#fff"/><rect x="213.5" y="2438" width="83.5" height="55" fill="#a0d8f5"/><rect x="297" y="2438" width="83.5" height="55" fill="#4a8fd0"/><rect x="380.5" y="2438" width="83.5" height="55" fill="#4cb84c"/><rect x="464" y="2438" width="83.5" height="55" fill="#f6e35a"/><rect x="547.5" y="2438" width="83.5" height="55" fill="#f47a2a"/><rect x="631" y="2438" width="83.5" height="55" fill="#d8262c"/><rect x="714.5" y="2438" width="83.5" height="55" fill="#9b1b1e"/></g>
<g font-size="30" text-anchor="middle"><text x="213" y="2532">25</text><text x="297" y="2532">26</text><text x="380" y="2532">30</text><text x="464" y="2532">31</text><text x="547" y="2532">35</text><text x="631" y="2532">36</text><text x="714" y="2532">40</text></g>

<!-- ============ (f) TTs index ============ -->
<g clip-path="url(#cF)">
<rect x="992" y="1740" width="686" height="617" fill="#fff"/>
<g transform="translate(1178.3,2043) scale(8.47,8.4)">
<g filter="url(#bl)">
<path fill="#c8d4f8" d="M-23,-27 C-10,-30 10,-29 25,-24 C40,-28 52,-31 60,-30 L60,28 C52,22 46,12 44,2 C40,-2 25,-1 12,1 C2,3 -10,4 -23,3 Z"/>
<ellipse cx="14" cy="-34" rx="8" ry="2" fill="#8aa2f2"/>
<path fill="#8aa2f2" d="M-23,-24 C-10,-21 5,-18 20,-17 L45,-18 L45,-10 C35,-9 20,-8 10,-5 C0,-5 -10,-4 -23,-6 Z"/>
<ellipse cx="53" cy="4" rx="5" ry="8" fill="#8aa2f2"/>
<ellipse cx="52" cy="27" rx="8" ry="2" fill="#8aa2f2"/>
<path fill="#3db84a" d="M-19,-16 C-10,-18 0,-17 10,-15 C20,-15 30,-15 42,-16 L42,-12 C30,-11 20,-10 10,-9 C0,-11 -10,-11 -19,-10 Z"/>
<ellipse cx="16" cy="4" rx="5" ry="2" fill="#3db84a"/>
<ellipse cx="-21" cy="-26" rx="2" ry="1.5" fill="#3db84a"/>
<ellipse cx="3" cy="-13" rx="3" ry="0.9" fill="#ffff00"/>
<ellipse cx="-4" cy="-14" rx="6" ry="1.3" fill="#e80000"/>
<ellipse cx="16" cy="-11" rx="2" ry="0.7" fill="#e80000"/>
<ellipse cx="35" cy="-15" rx="4" ry="0.8" fill="#ffff00"/>
<path fill="#ffff00" d="M41,-16 L53,-17 L59,-15 L53,-10 L43,-9 Z"/>
<path fill="#b80000" d="M43,-13 L52,-15 L57,-14 L52,-11 L45,-10 Z"/>
<ellipse cx="56" cy="-23" rx="1.2" ry="4" fill="#e80000"/>
<path fill="#3db84a" d="M-3,38 C0,31 8,29 15,31 C18,33 19,36 19,38 Z"/>
<ellipse cx="8" cy="33" rx="6" ry="2.5" fill="#b80000"/>
<ellipse cx="0" cy="36" rx="3" ry="1.5" fill="#e80000"/>
<ellipse cx="23" cy="37" rx="2" ry="1.5" fill="#e80000"/>
</g>
<use href="#coast" stroke="#222" stroke-width="1.3"/>
</g>
</g>
<rect x="992" y="1740" width="686" height="617" fill="none" stroke="#111" stroke-width="3"/>
<path d="M992,1791h-20M992,2043h-20M992,2295h-20M1678,1791h20M1678,2043h20M1678,2295h20M1178,1740v-20M1432,1740v-20M1178,2357v20M1432,2357v20" stroke="#111" stroke-width="3"/>
<path d="M992,1917h-10M992,2169h-10M1678,1917h10M1678,2169h10M1009,1740v-10M1094,1740v-10M1263,1740v-10M1348,1740v-10M1517,1740v-10M1602,1740v-10M1009,2357v10M1094,2357v10M1263,2357v10M1348,2357v10M1517,2357v10M1602,2357v10" stroke="#111" stroke-width="2"/>
<text x="945" y="1711" font-size="40" textLength="292" lengthAdjust="spacingAndGlyphs">(f) ERA5 0610 06h</text>
<text x="1678" y="1708" font-size="36" text-anchor="end">TTs index</text>
<g font-size="30" text-anchor="end"><text x="952" y="1802">30N</text><text x="947" y="2054">0</text><text x="952" y="2306">30S</text></g>
<g font-size="30" text-anchor="middle"><text x="1179" y="2420">0</text><text x="1432" y="2420">30E</text></g>
<rect x="1296" y="1920" width="269" height="123" fill="none" stroke="#ee1c24" stroke-width="6"/>
<g stroke="#333" stroke-width="1.2">
<rect x="1001" y="2441" width="55.6" height="55" fill="#fff"/><rect x="1056.6" y="2441" width="55.6" height="55" fill="#d0dcfa"/><rect x="1112.2" y="2441" width="55.6" height="55" fill="#b0c4f8"/><rect x="1167.8" y="2441" width="55.6" height="55" fill="#8aa2f2"/><rect x="1223.4" y="2441" width="55.6" height="55" fill="#7286ef"/><rect x="1279" y="2441" width="55.6" height="55" fill="#0a9a3a"/><rect x="1334.6" y="2441" width="55.6" height="55" fill="#3db84a"/><rect x="1390.2" y="2441" width="55.6" height="55" fill="#b2f26a"/><rect x="1445.8" y="2441" width="55.6" height="55" fill="#ffff00"/><rect x="1501.4" y="2441" width="55.6" height="55" fill="#e80000"/><rect x="1557" y="2441" width="55.6" height="55" fill="#b80000"/><rect x="1612.6" y="2441" width="55.4" height="55" fill="#000"/></g>
<g font-size="30" text-anchor="middle"><text x="1057" y="2532">43</text><text x="1112" y="2532">44</text><text x="1168" y="2532">45</text><text x="1223" y="2532">46</text><text x="1279" y="2532">47</text><text x="1335" y="2532">48</text><text x="1390" y="2532">49</text><text x="1446" y="2532">50</text><text x="1501" y="2532">51</text><text x="1557" y="2532">52</text><text x="1613" y="2532">56</text></g>
</svg>
</body></html>
